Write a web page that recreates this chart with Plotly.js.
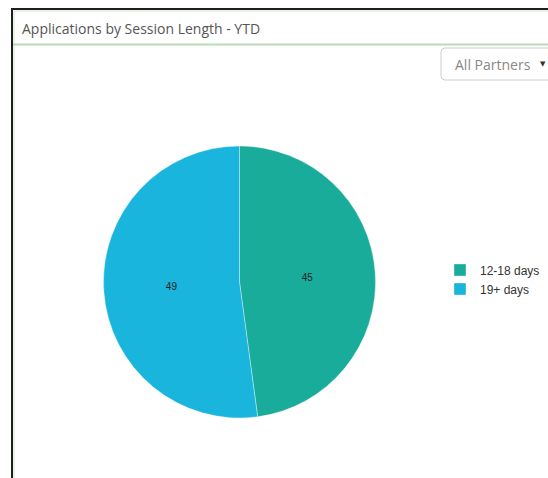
<!DOCTYPE html>
<html>
<head>
<meta charset="utf-8">
<script src="https://cdn.plot.ly/plotly-3.0.1.min.js"></script>
<style>html,body{margin:0;padding:0;background:#fff;overflow:hidden;}#chart{width:548px;height:478px;}</style>
</head>
<body>
<div id="chart"></div>
<script>
var categories = ['12-18 days', '19+ days'];
var values = [45, 49];
var sliceColors = ['#19ac9b', '#19b5dd'];
var chartTitle = 'Applications by Session Length - YTD';
var filterLabel = 'All Partners';

var W = 548, H = 478;
function px(x){ return x / W; }
function py(y){ return 1 - y / H; }

var trace = {
  type: 'pie',
  labels: categories,
  values: values,
  sort: false,
  direction: 'clockwise',
  rotation: 0,
  marker: {colors: sliceColors, line: {color: 'rgba(255,255,255,0.35)', width: 1}},
  textinfo: 'value',
  textposition: 'inside',
  insidetextorientation: 'horizontal',
  textfont: {family: 'Arial, Liberation Sans, sans-serif', size: 10, color: '#222'},
  hoverinfo: 'label+value',
  domain: {x: [px(103.5), px(375.5)], y: [py(418), py(146)]}
};

var layout = {
  width: W, height: H,
  margin: {l: 0, r: 0, t: 0, b: 0, autoexpand: false},
  paper_bgcolor: '#fff',
  showlegend: true,
  title: {
    text: chartTitle,
    x: px(22), xanchor: 'left', xref: 'paper',
    y: py(29), yanchor: 'middle', yref: 'paper',
    font: {family: 'Open Sans, sans-serif', size: 14, color: '#555'}
  },
  legend: {
    x: px(440), xanchor: 'left', y: py(279.5), yanchor: 'middle',
    font: {family: 'Arial, Liberation Sans, sans-serif', size: 12, color: '#333'},
    bgcolor: 'rgba(0,0,0,0)', itemwidth: 30
  },
  shapes: [
    {type: 'line', xref: 'paper', yref: 'paper', x0: px(11), x1: 1, y0: py(9), y1: py(9), line: {color: '#1e1e1e', width: 2}},
    {type: 'line', xref: 'paper', yref: 'paper', x0: px(12), x1: px(12), y0: py(9), y1: 0, line: {color: '#1e1e1e', width: 2}},
    {type: 'line', xref: 'paper', yref: 'paper', x0: px(14), x1: px(14), y0: py(11), y1: 0, line: {color: '#cfe8cc', width: 1}},
    {type: 'line', xref: 'paper', yref: 'paper', x0: px(14), x1: 1, y0: py(11), y1: py(11), line: {color: '#cfe8cc', width: 1}},
    {type: 'line', xref: 'paper', yref: 'paper', x0: px(13), x1: 1, y0: py(44.5), y1: py(44.5), line: {color: '#b9dbb4', width: 2}},
    {type: 'path', xref: 'paper', yref: 'paper',
     path: 'M ' + px(445) + ' ' + py(48) + ' L ' + px(560) + ' ' + py(48) + ' L ' + px(560) + ' ' + py(80) + ' L ' + px(445) + ' ' + py(80) +
           ' Q ' + px(441) + ' ' + py(80) + ' ' + px(441) + ' ' + py(76) + ' L ' + px(441) + ' ' + py(52) +
           ' Q ' + px(441) + ' ' + py(48) + ' ' + px(445) + ' ' + py(48) + ' Z',
     line: {color: '#cccccc', width: 1}, fillcolor: '#ffffff'}
  ],
  annotations: [
    {text: filterLabel, xref: 'paper', yref: 'paper', x: px(453), y: py(64), xanchor: 'left', yanchor: 'middle', showarrow: false,
     font: {family: 'Open Sans, sans-serif', size: 14, color: '#888'}},
    {text: '\u25BC', xref: 'paper', yref: 'paper', x: px(543), y: py(64), xanchor: 'center', yanchor: 'middle', showarrow: false,
     font: {family: 'DejaVu Sans, sans-serif', size: 7, color: '#333'}}
  ]
};

Plotly.newPlot('chart', [trace], layout, {displayModeBar: false});
</script>
</body>
</html>
